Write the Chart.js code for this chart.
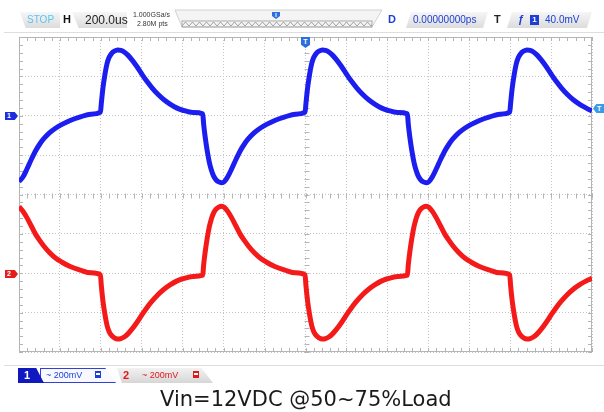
<!DOCTYPE html>
<html>
<head>
<meta charset="utf-8">
<script src="https://cdn.jsdelivr.net/npm/chart.js@4.4.0/dist/chart.umd.min.js"></script>
<style>
  html, body { margin: 0; padding: 0; background: #fff; }
  #wrap { position: relative; width: 604px; height: 412px; overflow: hidden; font-family: "Liberation Sans", Arial, sans-serif; }
  #scope { position: absolute; left: 0; top: 0; }
  .abs { position: absolute; white-space: nowrap; }
  .tab { background: linear-gradient(#f6f6f6, #dcdcdc); }
  .sep { position: absolute; left: 4px; width: 600px; height: 1px; background: #dedede; }
  .blue { color: #1c3fd6; }
  .red { color: #e01818; }
</style>
</head>
<body>
<div id="wrap">
  <canvas id="scope" width="604" height="412"></canvas>

  <!-- header bar -->
  <div class="abs tab" style="left:20px;top:12px;width:40px;height:16px;clip-path:polygon(0 0,100% 0,100% 100%,14% 100%);"></div>
  <div class="abs" style="left:27px;top:14px;font-size:10px;color:#55c6f2;">STOP</div>
  <div class="abs" style="left:63px;top:13px;font-size:11px;font-weight:bold;color:#111;">H</div>
  <div class="abs tab" style="left:72px;top:12px;width:55px;height:16px;clip-path:polygon(0 0,100% 0,100% 100%,12% 100%);"></div>
  <div class="abs" style="left:85px;top:13px;font-size:12px;color:#222;">200.0us</div>
  <div class="abs" style="left:133px;top:11px;font-size:7px;color:#333;">1.000GSa/s</div>
  <div class="abs" style="left:137px;top:20px;font-size:7px;color:#333;">2.80M pts</div>
  <svg class="abs" style="left:170px;top:6px;" width="216" height="24">
    <defs>
      <pattern id="zz" width="7" height="6" patternUnits="userSpaceOnUse" x="12" y="15">
        <polyline points="0,5 3.5,1 7,5" fill="none" stroke="#8a8a8a" stroke-width="0.8"/>
      </pattern>
    </defs>
    <path d="M5 4 L212 4 L202 21 L12 21 Z" fill="#f4f4f4" stroke="#c8c8c8" stroke-width="0.8"/>
    <rect x="12" y="15" width="190" height="6" fill="url(#zz)" stroke="#9a9a9a" stroke-width="0.8"/>
    <path d="M102 6 L110 6 L110 10 L106 13 L102 10 Z" fill="#2a6ee0"/>
    <rect x="105.5" y="7" width="1" height="4" fill="#fff"/>
  </svg>
  <div class="abs blue" style="left:388px;top:13px;font-size:11px;font-weight:bold;">D</div>
  <div class="abs tab" style="left:406px;top:12px;width:82px;height:16px;clip-path:polygon(6% 0,100% 0,94% 100%,0 100%);"></div>
  <div class="abs blue" style="left:413px;top:14px;font-size:10px;">0.00000000ps</div>
  <div class="abs" style="left:494px;top:13px;font-size:11px;font-weight:bold;color:#222;">T</div>
  <div class="abs tab" style="left:507px;top:12px;width:85px;height:16px;clip-path:polygon(6% 0,100% 0,94% 100%,0 100%);"></div>
  <div class="abs blue" style="left:518px;top:13px;font-size:11px;font-weight:bold;">ƒ</div>
  <div class="abs" style="left:530px;top:15px;width:9px;height:10px;background:#1c3fd6;color:#fff;font-size:8px;font-weight:bold;text-align:center;line-height:10px;">1</div>
  <div class="abs blue" style="left:545px;top:14px;font-size:10px;">40.0mV</div>
  <div class="sep" style="top:32px;"></div>

  <!-- channel / trigger markers -->
  <div class="abs" style="left:5px;top:112px;width:13px;height:8px;background:#1c2ee0;color:#fff;font-size:7px;font-weight:bold;line-height:8px;text-indent:2px;clip-path:polygon(0 0,75% 0,100% 50%,75% 100%,0 100%);">1</div>
  <div class="abs" style="left:5px;top:270px;width:13px;height:8px;background:#e41c1c;color:#fff;font-size:7px;font-weight:bold;line-height:8px;text-indent:2px;clip-path:polygon(0 0,75% 0,100% 50%,75% 100%,0 100%);">2</div>
  <div class="abs" style="left:593px;top:104px;width:11px;height:9px;background:#3a9be8;color:#fff;font-size:7px;font-weight:bold;line-height:9px;text-indent:4px;clip-path:polygon(30% 0,100% 0,100% 100%,30% 100%,0 50%);">T</div>
  <div class="abs" style="left:301px;top:37px;width:9px;height:11px;background:#2a6ee0;color:#fff;font-size:7px;font-weight:bold;line-height:9px;text-align:center;clip-path:polygon(0 0,100% 0,100% 70%,50% 100%,0 70%);">T</div>

  <!-- footer channel tabs -->
  <div class="sep" style="top:365px;"></div>
  <div class="abs" style="left:40px;top:368px;width:76px;height:15px;border:1px solid #3040d8;box-sizing:border-box;background:#f8f8ff;clip-path:polygon(0 0,86% 0,100% 100%,0 100%);"></div>
  <div class="abs" style="left:18px;top:368px;width:26px;height:15px;background:#1018c0;clip-path:polygon(0 0,70% 0,100% 100%,0 100%);"></div>
  <div class="abs" style="left:24px;top:368px;font-size:11px;font-weight:bold;color:#fff;line-height:15px;">1</div>
  <div class="abs blue" style="left:46px;top:369px;font-size:9px;line-height:13px;">~ 200mV</div>
  <div class="abs" style="left:95px;top:371px;width:6px;height:7px;border:1px solid #1c3fd6;box-sizing:border-box;background:linear-gradient(#1c3fd6 0 30%,#fff 30% 55%,#1c3fd6 55%);"></div>
  <div class="abs tab" style="left:117px;top:368px;width:96px;height:15px;background:linear-gradient(#f2f2f2,#d6d6d6);clip-path:polygon(0 0,88% 0,100% 100%,5% 100%);"></div>
  <div class="abs red" style="left:123px;top:368px;font-size:11px;font-weight:bold;line-height:15px;">2</div>
  <div class="abs red" style="left:142px;top:369px;font-size:9px;line-height:13px;">~ 200mV</div>
  <div class="abs" style="left:193px;top:371px;width:6px;height:7px;border:1px solid #e01818;box-sizing:border-box;background:linear-gradient(#e01818 0 30%,#fff 30% 55%,#e01818 55%);"></div>

  <div class="abs" style="left:160px;top:389px;font-family:'DejaVu Sans',Verdana,sans-serif;font-size:21px;line-height:21px;color:#1a1a1a;">Vin=12VDC @50~75%Load</div>
</div>

<script>
// time in screen divisions (200us/div), 14 divisions across
const timeDiv = [
  0, 0.1, 0.2, 0.3, 0.4, 0.5, 0.6, 0.75, 0.9, 1.05, 1.25, 1.5, 1.75, 1.99,
  2.01, 2.05, 2.10, 2.15, 2.20, 2.26, 2.33, 2.41, 2.49, 2.57, 2.66, 2.76, 2.88, 3.00, 3.12, 3.25, 3.40, 3.55, 3.70, 3.85, 4.00, 4.25, 4.49,
  4.51, 4.55, 4.60, 4.65, 4.70, 4.75, 4.81, 4.88, 4.95, 5.02, 5.10, 5.20, 5.30, 5.40, 5.50, 5.60, 5.75, 5.90, 6.05, 6.25, 6.50, 6.75, 6.99,
  7.01, 7.05, 7.10, 7.15, 7.20, 7.26, 7.33, 7.41, 7.49, 7.57, 7.66, 7.76, 7.88, 8.00, 8.12, 8.25, 8.40, 8.55, 8.70, 8.85, 9.00, 9.25, 9.49,
  9.51, 9.55, 9.60, 9.65, 9.70, 9.75, 9.81, 9.88, 9.95, 10.02, 10.10, 10.20, 10.30, 10.40, 10.50, 10.60, 10.75, 10.90, 11.05, 11.25, 11.50, 11.75, 11.99,
  12.01, 12.05, 12.10, 12.15, 12.20, 12.26, 12.33, 12.41, 12.49, 12.57, 12.66, 12.76, 12.88, 13.00, 13.12, 13.25, 13.40, 13.55, 13.70, 13.85, 14.00
];

// CH1 trace, screen divisions (ground marker at +2)
const ch1 = [
  0.33, 0.45, 0.66, 0.89, 1.10, 1.27, 1.41, 1.57, 1.69, 1.78, 1.88, 1.97, 2.04, 2.09,
  2.30, 2.70, 3.05, 3.32, 3.48, 3.58, 3.64, 3.67, 3.66, 3.62, 3.54, 3.42, 3.25, 3.06, 2.88, 2.71, 2.54, 2.40, 2.29, 2.20, 2.14, 2.08, 2.05,
  1.80, 1.45, 1.10, 0.82, 0.62, 0.48, 0.38, 0.32, 0.30, 0.33, 0.45, 0.66, 0.89, 1.10, 1.27, 1.41, 1.57, 1.69, 1.78, 1.88, 1.97, 2.04, 2.09,
  2.30, 2.70, 3.05, 3.32, 3.48, 3.58, 3.64, 3.67, 3.66, 3.62, 3.54, 3.42, 3.25, 3.06, 2.88, 2.71, 2.54, 2.40, 2.29, 2.20, 2.14, 2.08, 2.05,
  1.80, 1.45, 1.10, 0.82, 0.62, 0.48, 0.38, 0.32, 0.30, 0.33, 0.45, 0.66, 0.89, 1.10, 1.27, 1.41, 1.57, 1.69, 1.78, 1.88, 1.97, 2.04, 2.09,
  2.30, 2.70, 3.05, 3.32, 3.48, 3.58, 3.64, 3.67, 3.66, 3.62, 3.54, 3.42, 3.25, 3.06, 2.88, 2.71, 2.54, 2.40, 2.29, 2.20, 2.12
];

// CH2 trace, screen divisions (ground marker at -2)
const ch2 = [
  -0.31, -0.43, -0.60, -0.80, -1.00, -1.16, -1.30, -1.48, -1.62, -1.72, -1.83, -1.92, -1.99, -2.04,
  -2.30, -2.70, -3.05, -3.32, -3.48, -3.58, -3.64, -3.67, -3.66, -3.62, -3.54, -3.42, -3.25, -3.06, -2.88, -2.71, -2.54, -2.40, -2.29, -2.20, -2.14, -2.08, -2.05,
  -1.80, -1.45, -1.10, -0.82, -0.62, -0.48, -0.38, -0.32, -0.30, -0.33, -0.43, -0.60, -0.80, -1.00, -1.16, -1.30, -1.48, -1.62, -1.72, -1.83, -1.92, -1.99, -2.04,
  -2.30, -2.70, -3.05, -3.32, -3.48, -3.58, -3.64, -3.67, -3.66, -3.62, -3.54, -3.42, -3.25, -3.06, -2.88, -2.71, -2.54, -2.40, -2.29, -2.20, -2.14, -2.08, -2.05,
  -1.80, -1.45, -1.10, -0.82, -0.62, -0.48, -0.38, -0.32, -0.30, -0.33, -0.43, -0.60, -0.80, -1.00, -1.16, -1.30, -1.48, -1.62, -1.72, -1.83, -1.92, -1.99, -2.04,
  -2.30, -2.70, -3.05, -3.32, -3.48, -3.58, -3.64, -3.67, -3.66, -3.62, -3.54, -3.42, -3.25, -3.06, -2.88, -2.71, -2.54, -2.40, -2.29, -2.20, -2.13
];

const gridColor = '#c4c4c4';

// solid frame plus the small 1/5-division ticks on the frame and centre axes
const scopeFrame = {
  id: 'scopeFrame',
  beforeDatasetsDraw(chart) {
    const { ctx, chartArea: a, scales: { x, y } } = chart;
    const cx = Math.round(x.getPixelForValue(7)) + 0.5;
    const cy = Math.round(y.getPixelForValue(0)) + 0.5;
    ctx.save();
    ctx.strokeStyle = '#b4b4b4';
    ctx.lineWidth = 1;
    ctx.strokeRect(a.left + 0.5, a.top + 0.5, a.right - a.left - 1, a.bottom - a.top - 1);
    ctx.beginPath();
    for (let i = 0; i <= 70; i++) {
      const px = Math.round(x.getPixelForValue(i / 5)) + 0.5;
      ctx.moveTo(px, a.top); ctx.lineTo(px, a.top + 4);
      ctx.moveTo(px, a.bottom); ctx.lineTo(px, a.bottom - 4);
      ctx.moveTo(px, cy - 2); ctx.lineTo(px, cy + 3);
    }
    for (let i = -20; i <= 20; i++) {
      const py = Math.round(y.getPixelForValue(i / 5)) + 0.5;
      ctx.moveTo(a.left, py); ctx.lineTo(a.left + 4, py);
      ctx.moveTo(a.right, py); ctx.lineTo(a.right - 4, py);
      ctx.moveTo(cx - 2, py); ctx.lineTo(cx + 3, py);
    }
    ctx.stroke();
    ctx.restore();
  }
};

const ctx = document.getElementById('scope').getContext('2d');
const scopeChart = new Chart(ctx, {
  type: 'line',
  data: {
    datasets: [
      {
        label: 'CH1',
        data: timeDiv.map((t, i) => ({ x: t, y: ch1[i] })),
        borderColor: '#1c1ef0',
        borderWidth: 5,
        pointRadius: 0,
        fill: false,
        cubicInterpolationMode: 'monotone'
      },
      {
        label: 'CH2',
        data: timeDiv.map((t, i) => ({ x: t, y: ch2[i] })),
        borderColor: '#f41a1a',
        borderWidth: 5,
        pointRadius: 0,
        fill: false,
        cubicInterpolationMode: 'monotone'
      }
    ]
  },
  options: {
    responsive: false,
    animation: false,
    layout: { padding: { left: 19, right: 12, top: 37, bottom: 60 } },
    plugins: { legend: { display: false }, tooltip: { enabled: false } },
    scales: {
      x: {
        type: 'linear', min: 0, max: 14,
        ticks: { display: false, stepSize: 1 },
        grid: { color: gridColor, drawTicks: false },
        border: { display: false, dash: [1, 2] }
      },
      y: {
        type: 'linear', min: -4, max: 4,
        ticks: { display: false, stepSize: 1 },
        grid: { color: gridColor, drawTicks: false },
        border: { display: false, dash: [1, 2] }
      }
    }
  },
  plugins: [scopeFrame]
});
</script>
</body>
</html>
